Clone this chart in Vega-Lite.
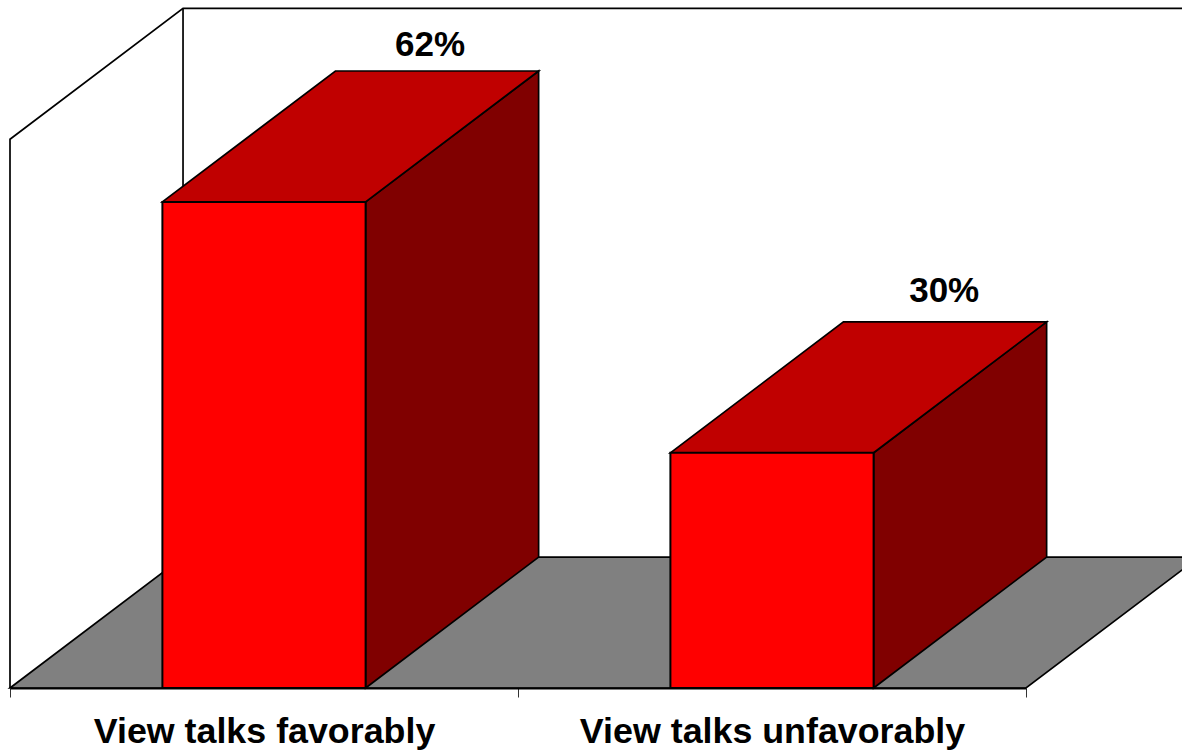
{
  "$schema": "https://vega.github.io/schema/vega-lite/v6.json",
  "width": 1016,
  "height": 678,
  "autosize": "none",
  "padding": {"left": 10, "top": 10, "right": 156, "bottom": 63},
  "background": "white",
  "config": {"view": {"stroke": null}},
  "datasets": {
    "bars": [
      {"label": "View talks favorably", "share": 62},
      {"label": "View talks unfavorably", "share": 30}
    ],
    "frame": [{"ceiling": 70, "slots": 2}]
  },
  "layer": [
    {
      "data": {"name": "frame"},
      "transform": [
        {"calculate": "[{x:0,y:0},{x:0,y:datum.ceiling},{x:0.3406,y:datum.ceiling+16.7},{x:datum.slots+0.3406,y:datum.ceiling+16.7}]", "as": "corner"},
        {"flatten": ["corner"]},
        {"window": [{"op": "row_number", "as": "step"}]}
      ],
      "mark": {"type": "line", "color": "black", "strokeWidth": 1.7, "strokeJoin": "miter"},
      "encoding": {
        "x": {
          "field": "corner.x",
          "type": "quantitative",
          "scale": {"domain": [0, 2], "nice": false, "zero": false},
          "title": null,
          "axis": {
            "values": [0, 0.5, 1, 1.5, 2],
            "labelExpr": "datum.value == 0.5 ? 'View talks favorably' : datum.value == 1.5 ? 'View talks unfavorably' : ''",
            "labelFont": "Liberation Sans",
            "labelFontWeight": "bold",
            "labelFontSize": 35.8,
            "labelColor": "black",
            "labelPadding": 17,
            "labelLimit": 600,
            "labelOverlap": false,
            "labelFlush": false,
            "labelBound": false,
            "tickSize": 9,
            "tickWidth": 1,
            "tickColor": "#333333",
            "tickOpacity": {"condition": {"test": "datum.value == 0.5 || datum.value == 1.5", "value": 0}, "value": 1},
            "domainColor": "black",
            "domainWidth": 2,
            "grid": false,
            "zindex": 1
          }
        },
        "y": {
          "field": "corner.y",
          "type": "quantitative",
          "scale": {"domain": [0, 86.48], "nice": false, "zero": false},
          "axis": null
        },
        "order": {"field": "step", "type": "quantitative"}
      }
    },
    {
      "data": {"name": "frame"},
      "transform": [
        {"calculate": "[{x:0.3406,y:0},{x:0.3406,y:datum.ceiling+16.7}]", "as": "corner"},
        {"flatten": ["corner"]}
      ],
      "mark": {"type": "line", "color": "black", "strokeWidth": 1.7},
      "encoding": {
        "x": {"field": "corner.x", "type": "quantitative"},
        "y": {"field": "corner.y", "type": "quantitative", "axis": null}
      }
    },
    {
      "data": {"name": "frame"},
      "transform": [
        {"calculate": "[{x:0,lo:0,hi:0},{x:0.3406,lo:0,hi:16.7},{x:datum.slots,lo:0,hi:16.7},{x:datum.slots+0.3406,lo:16.7,hi:16.7}]", "as": "corner"},
        {"flatten": ["corner"]}
      ],
      "mark": {"type": "area", "orient": "vertical", "fill": "#808080", "stroke": "black", "strokeWidth": 1.7, "strokeJoin": "miter"},
      "encoding": {
        "x": {"field": "corner.x", "type": "quantitative"},
        "y": {"field": "corner.lo", "type": "quantitative", "axis": null},
        "y2": {"field": "corner.hi"}
      }
    },
    {
      "data": {"name": "bars"},
      "transform": [
        {"window": [{"op": "row_number", "as": "rank"}]},
        {"calculate": "datum.rank - 1 + 0.3", "as": "left"},
        {"calculate": "datum.rank - 1 + 0.7", "as": "right"},
        {"calculate": "datum.share + 16.7", "as": "rear"}
      ],
      "layer": [
        {
          "transform": [
            {"calculate": "[{x:datum.right,lo:0,hi:datum.share},{x:datum.right+0.3406,lo:16.7,hi:datum.rear}]", "as": "corner"},
            {"flatten": ["corner"]}
          ],
          "mark": {"type": "area", "orient": "vertical", "fill": "#800000", "stroke": "black", "strokeWidth": 1.7, "strokeJoin": "miter"},
          "encoding": {
            "x": {"field": "corner.x", "type": "quantitative"},
            "y": {"field": "corner.lo", "type": "quantitative", "axis": null},
            "y2": {"field": "corner.hi"},
            "detail": {"field": "label"}
          }
        },
        {
          "transform": [
            {"calculate": "[{x:datum.left,lo:datum.share,hi:datum.share},{x:datum.left+0.3406,lo:datum.share,hi:datum.rear},{x:datum.right,lo:datum.share,hi:datum.rear},{x:datum.right+0.3406,lo:datum.rear,hi:datum.rear}]", "as": "corner"},
            {"flatten": ["corner"]}
          ],
          "mark": {"type": "area", "orient": "vertical", "fill": "#C00000", "stroke": "black", "strokeWidth": 1.7, "strokeJoin": "miter"},
          "encoding": {
            "x": {"field": "corner.x", "type": "quantitative"},
            "y": {"field": "corner.lo", "type": "quantitative", "axis": null},
            "y2": {"field": "corner.hi"},
            "detail": {"field": "label"}
          }
        },
        {
          "mark": {"type": "rect", "fill": "#FF0000", "stroke": "black", "strokeWidth": 2},
          "encoding": {
            "x": {"field": "left", "type": "quantitative"},
            "x2": {"field": "right"},
            "y": {"field": "share", "type": "quantitative", "axis": null},
            "y2": {"datum": 0}
          }
        },
        {
          "transform": [
            {"calculate": "datum.share + '%'", "as": "text"},
            {"calculate": "datum.left + 0.527 + (datum.rank - 1) * 0.012", "as": "anchor"},
            {"calculate": "datum.share * 0.98 + 21.3", "as": "height"}
          ],
          "mark": {"type": "text", "font": "Liberation Sans", "fontWeight": "bold", "fontSize": 35, "color": "black", "baseline": "middle", "align": "center"},
          "encoding": {
            "x": {"field": "anchor", "type": "quantitative"},
            "y": {"field": "height", "type": "quantitative", "axis": null},
            "text": {"field": "text"}
          }
        }
      ]
    }
  ]
}
